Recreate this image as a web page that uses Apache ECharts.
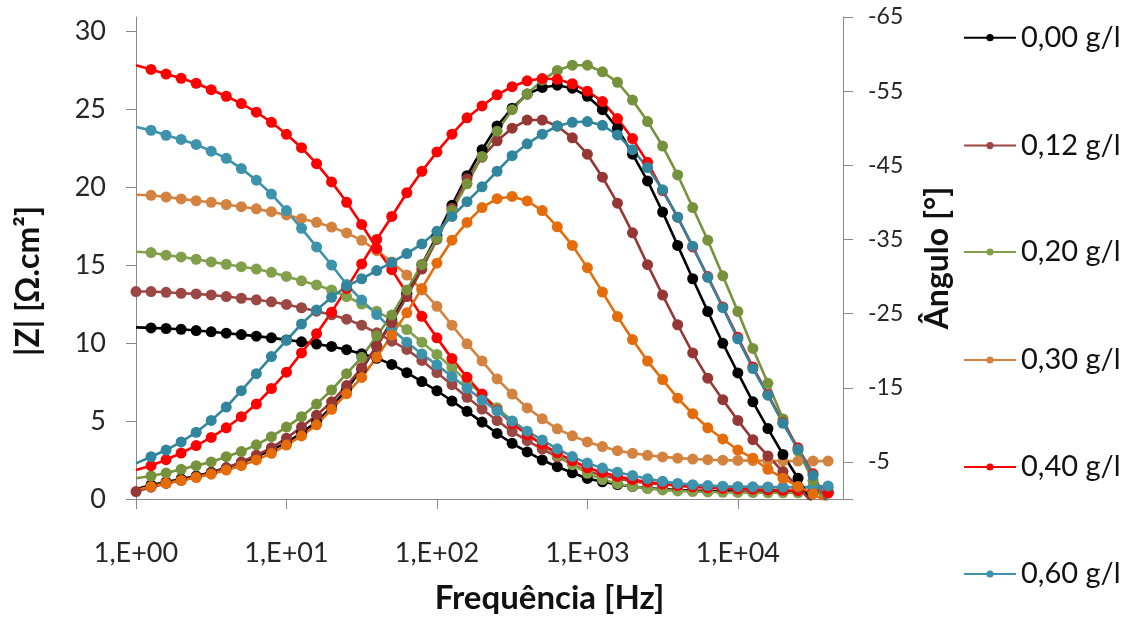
<!DOCTYPE html>
<html>
<head>
<meta charset="utf-8">
<script src="https://cdn.jsdelivr.net/npm/echarts@6/dist/echarts.min.js"></script>
<style>
html,body{margin:0;padding:0;background:#ffffff;}
#chart{width:1130px;height:620px;}
</style>
</head>
<body>
<div id="chart"></div>
<script>
// ---------- DATA ----------
const FREQ = [1, 1.259, 1.585, 1.995, 2.512, 3.162, 3.981, 5.012, 6.31, 7.943,
  10, 12.59, 15.85, 19.95, 25.12, 31.62, 39.81, 50.12, 63.1, 79.43,
  100, 125.9, 158.5, 199.5, 251.2, 316.2, 398.1, 501.2, 631, 794.3,
  1000, 1259, 1585, 1995, 2512, 3162, 3981, 5012, 6310, 7943,
  10000, 12589, 15849, 19953, 25119, 31623, 39811];

const NAMES = ['0,00 g/l', '0,12 g/l', '0,20 g/l', '0,30 g/l', '0,40 g/l', '0,60 g/l'];

// |Z| [Ohm.cm2]
const Z_000 = [11.0, 10.97, 10.93, 10.88, 10.8, 10.72, 10.63, 10.54, 10.44, 10.33,
  10.2, 10.08, 9.93, 9.78, 9.57, 9.31, 9.02, 8.63, 8.1, 7.53,
  6.94, 6.28, 5.62, 4.93, 4.2, 3.57, 3.02, 2.5, 2.07, 1.68,
  1.32, 1.1, 0.93, 0.8, 0.7, 0.63, 0.58, 0.54, 0.51, 0.49,
  0.47, 0.46, 0.45, 0.45, 0.44, 0.44, 0.44];
const Z_012 = [13.3, 13.3, 13.25, 13.19, 13.15, 13.08, 12.98, 12.87, 12.77, 12.64,
  12.47, 12.26, 12.04, 11.81, 11.53, 11.14, 10.65, 10.12, 9.59, 8.88,
  8.1, 7.33, 6.52, 5.77, 5.03, 4.32, 3.74, 3.2, 2.7, 2.22,
  1.8, 1.5, 1.3, 1.14, 1.02, 0.93, 0.87, 0.83, 0.8, 0.78,
  0.77, 0.76, 0.75, 0.75, 0.75, 0.75, 0.72];
const Z_020 = [15.85, 15.8, 15.63, 15.52, 15.37, 15.2, 15.05, 14.89, 14.74, 14.53,
  14.27, 13.99, 13.72, 13.4, 12.98, 12.5, 12.03, 11.5, 10.86, 10.05,
  9.27, 8.42, 7.55, 6.7, 5.85, 5.0, 4.2, 3.48, 2.8, 2.2,
  1.65, 1.25, 0.98, 0.8, 0.67, 0.58, 0.52, 0.48, 0.45, 0.43,
  0.42, 0.41, 0.4, 0.4, 0.4, 0.4, 0.4];
const Z_030 = [19.5, 19.47, 19.36, 19.24, 19.12, 19.02, 18.88, 18.74, 18.6, 18.42,
  18.21, 17.97, 17.74, 17.43, 17.06, 16.58, 15.92, 15.2, 14.36, 13.4,
  12.35, 11.14, 9.95, 8.85, 7.7, 6.73, 5.84, 5.14, 4.5, 4.05,
  3.66, 3.36, 3.1, 2.93, 2.8, 2.7, 2.62, 2.56, 2.52, 2.49,
  2.47, 2.46, 2.45, 2.44, 2.43, 2.43, 2.43];
const Z_040 = [27.81, 27.54, 27.24, 26.97, 26.65, 26.24, 25.82, 25.35, 24.8, 24.15,
  23.38, 22.52, 21.5, 20.33, 19.02, 17.6, 16.05, 14.7, 13.19, 11.71,
  10.33, 9.0, 7.8, 6.73, 5.7, 4.85, 4.12, 3.5, 2.95, 2.45,
  2.0, 1.7, 1.45, 1.25, 1.09, 0.96, 0.86, 0.78, 0.72, 0.68,
  0.64, 0.61, 0.58, 0.56, 0.53, 0.5, 0.38];
const Z_060 = [23.85, 23.64, 23.32, 23.05, 22.73, 22.3, 21.84, 21.18, 20.44, 19.55,
  18.49, 17.35, 16.16, 15.0, 13.75, 12.75, 11.82, 10.9, 10.05, 9.3,
  8.6, 7.85, 7.1, 6.35, 5.65, 4.99, 4.35, 3.78, 3.22, 2.72,
  2.3, 1.98, 1.72, 1.5, 1.3, 1.13, 1.0, 0.92, 0.86, 0.82,
  0.79, 0.78, 0.77, 0.77, 0.77, 0.78, 0.84];

// Phase angle [deg]
const P_000 = [-1.3, -1.9, -2.3, -2.7, -3.1, -3.6, -4.2, -4.9, -5.7, -6.6,
  -7.6, -8.9, -10.4, -12.4, -14.8, -17.5, -20.6, -24.0, -27.7, -31.6,
  -35.5, -39.6, -43.6, -47.1, -50.3, -52.7, -54.6, -55.5, -55.8, -55.4,
  -54.3, -52.5, -50.0, -46.5, -42.9, -38.7, -34.2, -29.7, -25.3, -21.0,
  -17.0, -13.1, -9.5, -6.0, -2.8, 0.8, 4.0];
const P_012 = [-1.0, -1.6, -2.1, -2.5, -3.0, -3.5, -4.2, -5.0, -5.9, -6.9,
  -8.2, -9.7, -11.3, -13.1, -15.3, -17.7, -20.6, -23.8, -27.3, -31.0,
  -35.0, -39.2, -43.2, -46.1, -48.3, -50.0, -51.1, -51.1, -50.3, -48.7,
  -46.5, -43.4, -39.9, -35.9, -31.6, -27.5, -23.5, -19.7, -16.3, -13.4,
  -10.6, -8.0, -5.8, -3.7, -1.6, 0.6, 3.0];
const P_020 = [-2.8, -3.1, -3.5, -4.0, -4.5, -5.0, -5.7, -6.4, -7.3, -8.4,
  -9.7, -11.1, -12.8, -14.7, -16.9, -19.1, -22.0, -24.8, -28.2, -31.6,
  -35.1, -38.9, -42.5, -46.2, -49.6, -52.5, -54.6, -56.5, -57.8, -58.5,
  -58.5, -57.6, -56.2, -53.8, -50.9, -47.6, -43.7, -39.3, -34.9, -30.1,
  -25.3, -20.3, -15.6, -10.8, -6.5, -2.5, 1.5];
const P_030 = [-1.2, -1.7, -2.15, -2.5, -2.9, -3.35, -3.9, -4.5, -5.27, -6.16,
  -7.27, -8.5, -10.0, -12.1, -14.2, -16.4, -19.1, -22.1, -25.1, -28.4,
  -31.8, -34.9, -37.3, -39.3, -40.5, -40.8, -40.2, -38.9, -36.7, -34.2,
  -31.2, -27.9, -24.6, -21.5, -18.6, -16.1, -13.6, -11.5, -9.6, -8.1,
  -6.6, -5.5, -4.0, -2.8, -1.7, -0.7, 0.5];
const P_040 = [-3.9, -4.5, -5.3, -6.2, -7.2, -8.3, -9.6, -11.1, -12.8, -14.9,
  -17.1, -19.7, -22.3, -25.2, -28.4, -31.7, -35.0, -38.1, -41.3, -44.2,
  -46.8, -49.2, -51.4, -53.0, -54.5, -55.6, -56.4, -56.7, -56.6, -56.0,
  -55.0, -53.6, -51.3, -48.6, -45.4, -41.6, -38.0, -34.0, -30.0, -25.9,
  -21.8, -17.8, -14.1, -10.3, -6.9, -3.4, 0.8];
const P_060 = [-4.8, -5.7, -6.6, -7.7, -9.0, -10.6, -12.4, -14.6, -16.9, -19.2,
  -21.4, -23.6, -25.5, -27.2, -28.7, -29.7, -30.8, -31.9, -33.1, -34.4,
  -36.1, -38.1, -40.1, -42.1, -44.2, -46.3, -47.9, -49.2, -50.3, -50.8,
  -50.9, -50.4, -49.1, -47.1, -44.7, -41.7, -38.0, -34.1, -29.9, -25.8,
  -21.6, -17.6, -14.0, -10.2, -6.7, -3.2, 0.5];

// tick labels
const X_TICKS = [1, 10, 100, 1000, 10000];
const X_TICK_LABELS = ['1,E+00', '1,E+01', '1,E+02', '1,E+03', '1,E+04'];
const X_TICK_DECADES = [0, 1, 2, 3, 4];
const Y_LEFT_TICKS = [0, 5, 10, 15, 20, 25, 30];
const Y_RIGHT_TICKS = [-65, -55, -45, -35, -25, -15, -5];

// ---------- STYLE ----------
const Z_SETS = [Z_000, Z_012, Z_020, Z_030, Z_040, Z_060];
const P_SETS = [P_000, P_012, P_020, P_030, P_040, P_060];
const Z_COLORS = ['#000000', '#9B4744', '#82A04B', '#D3833F', '#FF0000', '#3D93AC'];
const P_COLORS = ['#000000', '#943735', '#76923C', '#E46C0A', '#FF0000', '#31859C'];
const FIRST_MARKER = [false, true, false, false, false, false];
const LEGEND_CENTERS = [37.7, 145.6, 252, 360, 467, 574];

const AXIS_COLOR = '#898989';
const TEXT_COLOR = '#262626';
const FONT = 'Lato';
const X_MIN = 1, X_MAX = 50000;

function points(vals, showFirst) {
  return vals.map(function (v, i) {
    if (i === 0 && !showFirst) return { value: [FREQ[i], v], symbol: 'none' };
    return [FREQ[i], v];
  });
}

function makeSeries(vals, i, axisIdx, color) {
  return {
    type: 'line',
    name: NAMES[i],
    xAxisIndex: 0,
    yAxisIndex: axisIdx,
    data: points(vals, FIRST_MARKER[i]),
    symbol: 'circle',
    symbolSize: 11,
    showSymbol: true,
    clip: true,
    lineStyle: { color: color, width: 2.6 },
    itemStyle: { color: color },
    emphasis: { disabled: true },
    animation: false
  };
}

const series = [];
Z_SETS.forEach(function (vals, i) { series.push(makeSeries(vals, i, 0, Z_COLORS[i])); });
P_SETS.forEach(function (vals, i) { series.push(makeSeries(vals, i, 1, P_COLORS[i])); });

const legends = NAMES.map(function (n, i) {
  return {
    data: [n],
    orient: 'vertical',
    left: 963,
    top: LEGEND_CENTERS[i] - 15,
    itemWidth: 52,
    itemHeight: 9,
    itemGap: 0,
    padding: 0,
    selectedMode: false,
    textStyle: { fontFamily: FONT, fontSize: 29, lineHeight: 30, color: '#111111' }
  };
});

function xLabel(v) {
  for (let i = 0; i < X_TICKS.length; i++) {
    if (Math.abs(X_TICKS[i] - v) / X_TICKS[i] < 1e-6) return X_TICK_LABELS[i];
  }
  return '';
}

const option = {
  backgroundColor: '#ffffff',
  animation: false,
  grid: { left: 136, right: 287, top: 17, bottom: 117, containLabel: false },
  legend: legends,
  xAxis: [
    {
      type: 'log',
      logBase: 10,
      min: X_MIN,
      max: X_MAX,
      axisLine: { show: true, onZero: false, lineStyle: { color: AXIS_COLOR, width: 1 } },
      axisTick: { show: false },
      axisLabel: { margin: 41, fontFamily: FONT, fontSize: 27, color: TEXT_COLOR, formatter: xLabel },
      splitLine: { show: false },
      minorTick: { show: false },
      minorSplitLine: { show: false },
      name: 'Frequência [Hz]',
      nameLocation: 'middle',
      nameGap: 83,
      nameTextStyle: { fontFamily: FONT, fontWeight: 'bold', fontSize: 33, color: '#111111', padding: [0, 0, 0, 120] }
    },
    {
      // tick marks only, one per decade (same span as the log axis, in decades)
      type: 'value',
      position: 'bottom',
      min: 0,
      max: Math.log10(X_MAX),
      axisLine: { show: false, onZero: false },
      axisTick: { show: true, inside: false, length: 10, lineStyle: { color: AXIS_COLOR }, customValues: X_TICK_DECADES },
      axisLabel: { show: false },
      splitLine: { show: false }
    }
  ],
  yAxis: [
    {
      type: 'value',
      position: 'left',
      min: 0,
      max: 30.9,
      axisLine: { show: true, onZero: false, lineStyle: { color: AXIS_COLOR, width: 1 } },
      axisTick: { show: true, inside: false, length: 10, lineStyle: { color: AXIS_COLOR }, customValues: Y_LEFT_TICKS },
      axisLabel: { margin: 30, fontFamily: FONT, fontSize: 27, color: TEXT_COLOR, customValues: Y_LEFT_TICKS },
      splitLine: { show: false },
      name: '|Z| [Ω.cm²]',
      nameLocation: 'middle',
      nameRotate: 90,
      nameGap: 91,
      nameTextStyle: { fontFamily: FONT, fontWeight: 'bold', fontSize: 32, color: '#111111', padding: [0, 46, 0, 0] }
    },
    {
      type: 'value',
      position: 'right',
      min: -65,
      max: 0,
      inverse: true,
      axisLine: { show: true, onZero: false, lineStyle: { color: AXIS_COLOR, width: 1 } },
      axisTick: { show: true, inside: false, length: 10, lineStyle: { color: AXIS_COLOR }, customValues: Y_RIGHT_TICKS.concat([0]) },
      axisLabel: { margin: 25, fontFamily: FONT, fontSize: 23, color: TEXT_COLOR, customValues: Y_RIGHT_TICKS },
      splitLine: { show: false },
      name: 'Ângulo [°]',
      nameLocation: 'middle',
      nameRotate: 90,
      nameGap: 79,
      nameTextStyle: { fontFamily: FONT, fontWeight: 'bold', fontSize: 32, color: '#111111' }
    }
  ],
  series: series
};

const chart = echarts.init(document.getElementById('chart'), null, { renderer: 'canvas' });
chart.setOption(option);
</script>
</body>
</html>
